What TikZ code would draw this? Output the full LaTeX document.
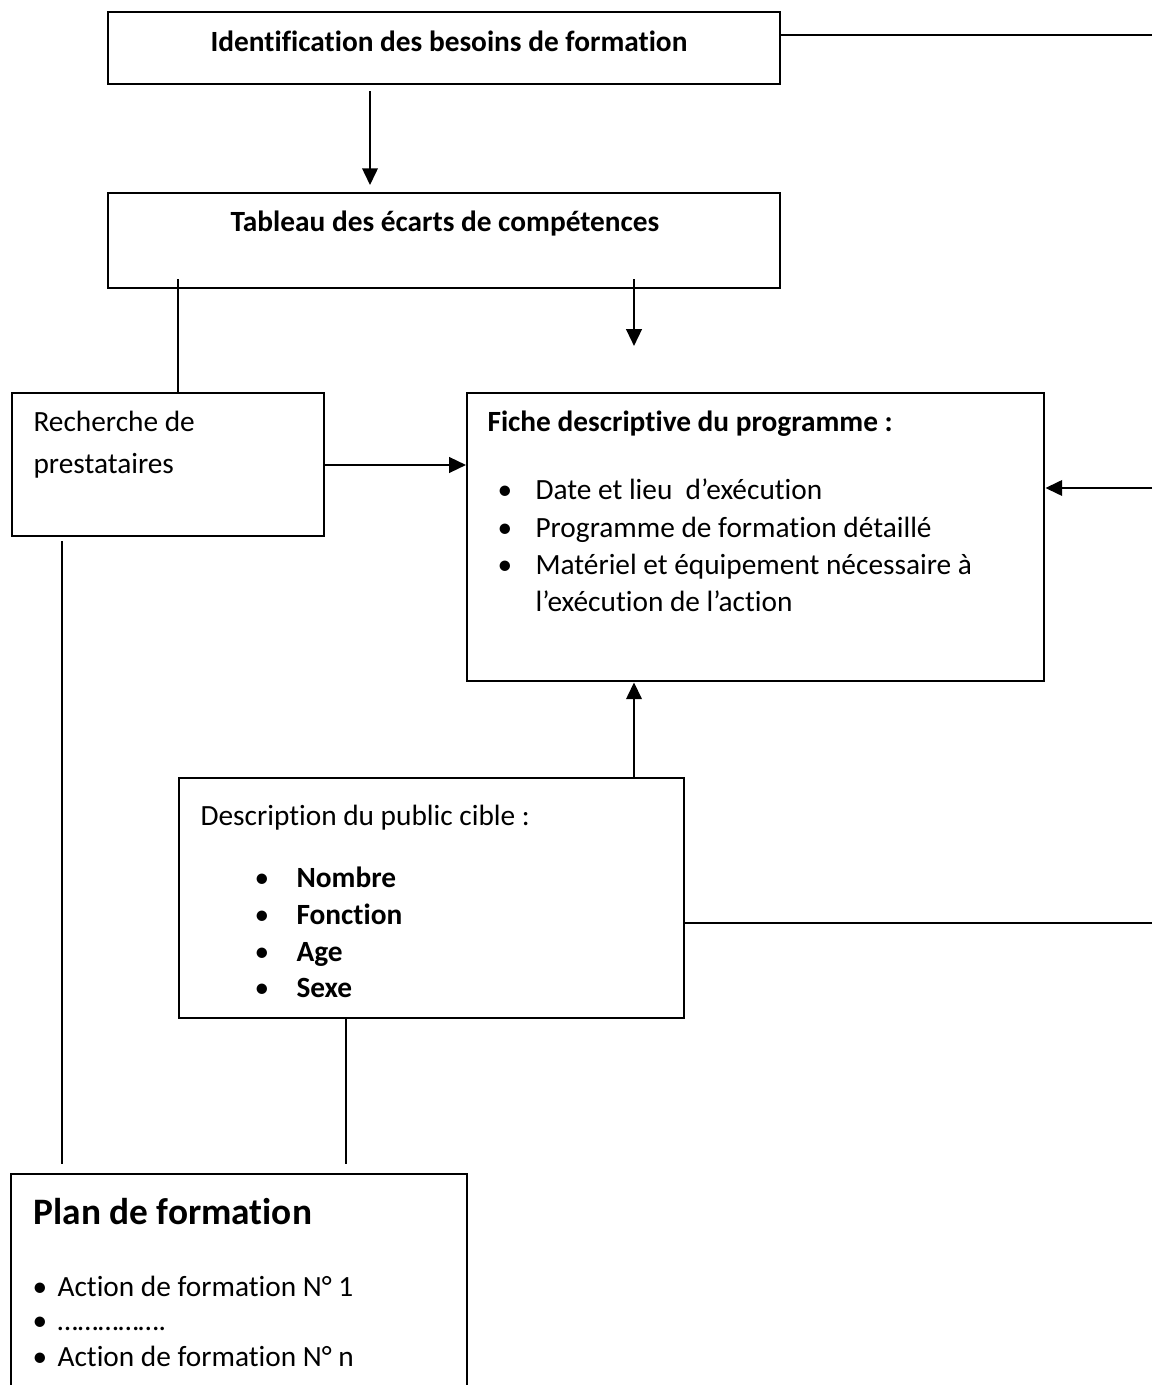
\documentclass[tikz,border=0pt]{standalone}
\usepackage{fontspec}
\setmainfont[Ligatures=NoCommon]{Carlito}
\usetikzlibrary{arrows.meta}

\newcommand{\pxu}{0.375pt}
\tikzset{
  boite/.style={draw, line width=0.9pt, anchor=north west, inner sep=0pt},
  fleche/.style={line width=0.9pt, -{Triangle[length=6.3pt,width=5.8pt]}},
  trait/.style={line width=0.9pt},
  texte/.style={anchor=base west, inner sep=0pt, font=\fontsize{11}{13}\selectfont},
  titre/.style={anchor=base, inner sep=0pt, font=\fontsize{11}{13}\selectfont\bfseries},
  puce/.style={anchor=base, inner sep=0pt, font=\fontsize{11}{13}\selectfont}
}

\begin{document}
\begin{tikzpicture}[x=0.375pt, y=-0.375pt]
\useasboundingbox (0,0) rectangle (1152,1385);
\clip (0,0) rectangle (1152,1385);

% boites
\node[boite, minimum width=672*\pxu, minimum height=72*\pxu] (ident) at (107,11) {};
\node[boite, minimum width=672*\pxu, minimum height=95*\pxu] (tableau) at (107,192) {};
\node[boite, minimum width=312*\pxu, minimum height=143*\pxu] (recherche) at (11,392) {};
\node[boite, minimum width=577*\pxu, minimum height=288*\pxu] (fiche) at (466,392) {};
\node[boite, minimum width=505*\pxu, minimum height=240*\pxu] (public) at (178,777) {};
\node[boite, minimum width=456*\pxu, minimum height=280*\pxu] (plan) at (10,1173) {};

% textes
\node[titre] (identT) at (449,52) {Identification des besoins de formation};
\node[titre] (tableauT) at (445,232) {Tableau des écarts de compétences};
\node[texte] (rech1) at (33,432) {Recherche de};
\node[texte] (rech2) at (33,474) {prestataires};
\node[texte, font=\fontsize{11}{13}\selectfont\bfseries] (ficheT) at (487,432) {Fiche descriptive du programme :};
\foreach \y/\nom in {500/f1, 538/f2, 575/f3}
  \node[puce] (p\nom) at (505,\y) {•};
\node[texte] (f1) at (535,500) {Date et lieu~ d’exécution};
\node[texte] (f2) at (535,538) {Programme de formation détaillé};
\node[texte] (f3) at (535,575) {Matériel et équipement nécessaire à};
\node[texte] (f4) at (535,611) {l’exécution de l’action};
\node[texte] (publicT) at (200,825) {Description du public cible :};
\foreach \y/\mot [count=\i] in {887/Nombre, 924/Fonction, 961/Age, 997/Sexe} {
  \node[puce] (pc\i) at (262,\y) {•};
  \node[texte, font=\fontsize{11}{13}\selectfont\bfseries] (c\i) at (296,\y) {\mot};
}
\node[texte, font=\fontsize{14}{17}\selectfont\bfseries] (planT) at (33,1224) {Plan de formation};
\foreach \y/\txt [count=\i] in {1296/Action de formation N° 1, 1330/……………., 1366/Action de formation N° n} {
  \node[puce] (pa\i) at (40,\y) {•};
  \node[texte] (a\i) at (57,\y) {\txt};
}

% reperes
\coordinate (bordA) at (1152,35);
\coordinate (bordB) at (1152,488);
\coordinate (bordC) at (1152,923);
\coordinate (xa) at (370,0);
\coordinate (xb) at (178,0);
\coordinate (xc) at (634,0);
\coordinate (xd) at (62,0);
\coordinate (xe) at (346,0);
\coordinate (yf) at (0,465);
\coordinate (finT) at (634,346);

% liaisons
\draw[trait] (ident.east |- bordA) -- (bordA);
\draw[fleche, shorten <=2.2pt, shorten >=2.6pt] (ident.south -| xa) -- (tableau.north -| xa);
\draw[trait, shorten <=-3.8pt] (tableau.south -| xb) -- (recherche.north -| xb);
\draw[fleche, shorten <=-3.8pt] (tableau.south -| xc) -- (finT);
\draw[fleche] (recherche.east |- yf) -- (fiche.west |- yf);
\draw[fleche] (bordB) -- (fiche.east |- bordB);
\draw[fleche] (public.north -| xc) -- (fiche.south -| xc);
\draw[trait] (public.east |- bordC) -- (bordC);
\draw[trait, shorten >=3.4pt] (public.south -| xe) -- (plan.north -| xe);
\draw[trait, shorten <=1.5pt, shorten >=3.4pt] (recherche.south -| xd) -- (plan.north -| xd);
\end{tikzpicture}
\end{document}
